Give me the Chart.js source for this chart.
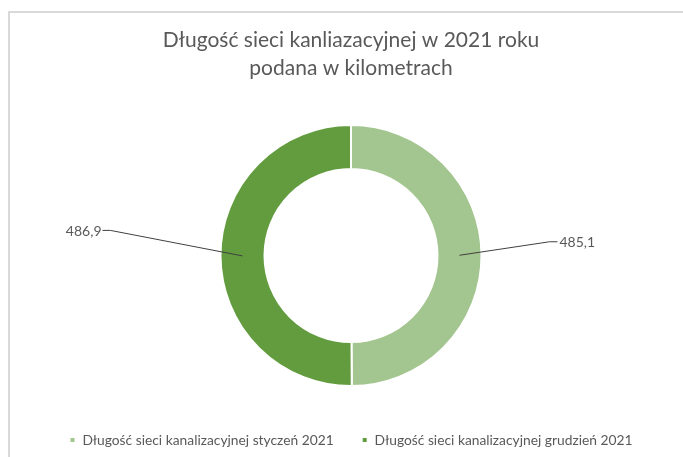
<!DOCTYPE html>
<html lang="pl">
<head>
<meta charset="utf-8">
<title>Długość sieci kanalizacyjnej</title>
<script src="https://cdn.jsdelivr.net/npm/chart.js@4/dist/chart.umd.min.js"></script>
<style>
    html, body { margin: 0; padding: 0; background: #fff; overflow: hidden; }
    #wrap { position: relative; width: 683px; height: 457px; }
    #frame {
        position: absolute; left: 8px; top: 11px;
        width: 720px; height: 500px;
        border: 2px solid #d9d9d9;
        box-sizing: border-box;
    }
    #sewerChart { position: absolute; left: 0; top: 0; }
</style>
</head>
<body>
<div id="wrap">
    <div id="frame"></div>
    <canvas id="sewerChart" width="683" height="457"></canvas>
</div>
<script>
const titleLines = ["Długość sieci kanliazacyjnej w 2021 roku", "podana w kilometrach"];
const categories = [
    "Długość sieci kanalizacyjnej styczeń 2021",
    "Długość sieci kanalizacyjnej grudzień 2021"
];
const lengthsKm = [485.1, 486.9];
const sliceColors = ["#a3c58f", "#629c3f"];

// where each value label sits, relative to the middle of its ring segment
const labelOffsets = [
    { dx: 90, dy: -13.5, side: "right" },
    { dx: -132, dy: -25.5, side: "left" }
];

function formatKm(v) {
    return v.toFixed(1).replace(".", ",");
}

// value labels with leader lines
const leaderLabels = {
    id: "leaderLabels",
    afterDatasetsDraw(chart) {
        const ctx = chart.ctx;
        const meta = chart.getDatasetMeta(0);
        ctx.save();
        ctx.font = "14px Lato";
        ctx.textBaseline = "middle";
        meta.data.forEach((arc, i) => {
            const p = arc.getProps(["x", "y", "startAngle", "endAngle", "innerRadius", "outerRadius"], true);
            const mid = (p.startAngle + p.endAngle) / 2;
            const r = (p.innerRadius + p.outerRadius) / 2;
            const ax = p.x + Math.cos(mid) * r;
            const ay = p.y + Math.sin(mid) * r;
            const off = labelOffsets[i];
            const ex = ax + off.dx;
            const ey = ay + off.dy;
            const tail = off.side === "right" ? 8 : -8;

            ctx.strokeStyle = "#404040";
            ctx.lineWidth = 1;
            ctx.beginPath();
            ctx.moveTo(ax, ay);
            ctx.lineTo(ex, ey);
            ctx.lineTo(ex + tail, ey);
            ctx.stroke();

            ctx.fillStyle = "#595959";
            ctx.textAlign = off.side === "right" ? "left" : "right";
            ctx.fillText(formatKm(chart.data.datasets[0].data[i]), ex + tail + (off.side === "right" ? 2 : -1), ey + 1);
        });
        ctx.restore();
    }
};

const ctx = document.getElementById("sewerChart").getContext("2d");
const sewerChart = new Chart(ctx, {
    type: "doughnut",
    data: {
        labels: categories,
        datasets: [{
            data: lengthsKm,
            backgroundColor: sliceColors,
            borderColor: "#ffffff",
            borderWidth: 2,
            radius: 130.5,
            cutout: 98.5
        }]
    },
    options: {
        responsive: false,
        animation: false,
        events: [],
        layout: { padding: { left: 19, right: 0, top: 0, bottom: 0 } },
        plugins: {
            title: {
                display: true,
                text: titleLines,
                color: "#595959",
                font: { family: "Lato", size: 21, weight: "normal", lineHeight: 1.333 },
                padding: { top: 26, bottom: 24 }
            },
            legend: {
                position: "bottom",
                labels: {
                    boxWidth: 6,
                    boxHeight: 6,
                    padding: 28,
                    color: "#595959",
                    font: { family: "Lato", size: 13.8 }
                }
            },
            tooltip: { enabled: false }
        }
    },
    plugins: [leaderLabels]
});
</script>
</body>
</html>
